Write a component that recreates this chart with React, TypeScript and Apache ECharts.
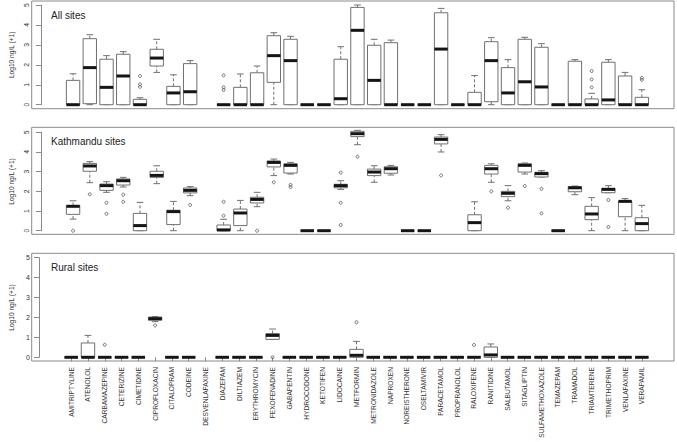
import React, { useEffect, useRef } from 'react';
import * as echarts from 'echarts';

const categories = [
  'AMITRIPTYLINE', 'ATENOLOL', 'CARBAMAZEPINE', 'CETERIZINE', 'CIMETIDINE', 'CIPROFLOXACIN',
  'CITALOPRAM', 'CODEINE', 'DESVENLAFAXINE', 'DIAZEPAM', 'DILTIAZEM', 'ERYTHROMYCIN',
  'FEXOFENADINE', 'GABAPENTIN', 'HYDROCODONE', 'KETOTIFEN', 'LIDOCAINE', 'METFORMIN',
  'METRONIDAZOLE', 'NAPROXEN', 'NOREISTHERONE', 'OSELTAMIVIR', 'PARACETAMOL', 'PROPRANOLOL',
  'RALOXIFENE', 'RANITIDINE', 'SALBUTAMOL', 'SITAGLIPTIN', 'SULFAMETHOXAZOLE', 'TEMAZEPAM',
  'TRAMADOL', 'TRIAMTERENE', 'TRIMETHOPRIM', 'VENLAFAXINE', 'VERAPAMIL',
];

const panelTitles = ['All sites', 'Kathmandu sites', 'Rural sites'];
const yTicks = [0, 1, 2, 3, 4, 5];

// [min, Q1, median, Q3, max] per category (null = no data)
const Z = [0, 0, 0, 0, 0];
const allSitesStats: (number[] | null)[] = [
  [0, 0, 0, 1.22, 1.55], [0, 0.05, 1.86, 3.31, 3.51], [0, 0, 0.87, 2.28, 2.46], [0, 0, 1.44, 2.53, 2.66],
  [0, 0, 0, 0.27, 0.35], [1.62, 1.94, 2.34, 2.78, 3.28], [0, 0, 0.59, 0.92, 1.5], [0, 0, 0.65, 2.06, 2.21],
  null, Z, [0, 0, 0, 0.87, 1.54], [0, 0, 0, 1.6, 1.94],
  [0, 1.12, 2.46, 3.46, 3.61], [0, 0, 2.21, 3.28, 3.43], Z, Z, [0, 0, 0.3, 2.28, 2.91], [0, 0, 3.73, 4.88, 5.0],
  [0, 0, 1.22, 2.98, 3.28], [0, 0, 0, 3.11, 3.24], Z, Z, [0, 0, 2.79, 4.61, 4.83], Z,
  [0, 0, 0, 0.62, 1.46], [0, 0.15, 2.21, 3.16, 3.36], [0, 0, 0.59, 1.86, 2.26], [0, 0, 1.15, 3.28, 3.38],
  [0, 0, 0.89, 2.88, 3.06], Z, [0, 0, 0, 2.18, 2.26], [0, 0, 0, 0.29, 0.57], [0, 0, 0.24, 2.13, 2.26],
  [0, 0, 0, 1.44, 1.62], [0, 0, 0, 0.37, 0.75],
];
const kathmanduStats: (number[] | null)[] = [
  [0.59, 0.83, 1.24, 1.28, 1.52], [2.44, 3.02, 3.29, 3.42, 3.51], [1.95, 2.05, 2.29, 2.37, 2.49], [2.22, 2.32, 2.54, 2.63, 2.71],
  [0, 0, 0.26, 0.88, 1.44], [2.39, 2.71, 2.81, 3.02, 3.3], [0, 0.31, 0.97, 1.04, 1.49], [1.78, 1.92, 2.05, 2.17, 2.24],
  null, [0, 0, 0.04, 0.29, 0.58], [0, 0.26, 0.9, 1.1, 1.54], [1.22, 1.41, 1.59, 1.7, 1.95],
  [2.8, 3.24, 3.47, 3.54, 3.64], [2.88, 2.93, 3.32, 3.4, 3.47], Z, Z, [2.1, 2.18, 2.29, 2.36, 2.54], [4.37, 4.78, 4.93, 5.05, 5.1],
  [2.46, 2.8, 2.98, 3.13, 3.3], [2.83, 2.92, 3.15, 3.25, 3.32], Z, Z, [4.0, 4.41, 4.64, 4.76, 4.88], null,
  [0, 0, 0.41, 0.81, 1.47], [2.46, 2.88, 3.15, 3.32, 3.4], [1.52, 1.73, 1.9, 2.0, 2.29], [2.88, 2.98, 3.32, 3.4, 3.44],
  [2.73, 2.73, 2.9, 2.97, 3.05], Z, [1.83, 1.98, 2.18, 2.24, 2.27], [0, 0.56, 0.85, 1.24, 1.68], [1.93, 1.93, 2.1, 2.15, 2.29],
  [0, 0.71, 1.49, 1.49, 1.63], [0, 0, 0.36, 0.66, 1.29],
];
const ruralStats: (number[] | null)[] = [
  Z, [0, 0, 0, 0.72, 1.1], Z, Z, Z, [1.79, 1.86, 1.94, 2.02, 2.05], Z, Z,
  null, Z, Z, Z,
  [0.9, 0.9, 1.1, 1.19, 1.42], Z, Z, Z, Z, [0, 0, 0.1, 0.4, 0.8],
  Z, Z, Z, Z, Z, Z,
  Z, [0, 0, 0.12, 0.52, 0.67], Z, Z,
  Z, Z, Z, Z, Z,
  Z, Z,
];

// outliers: [category index, value]
const allSitesOutliers = [
  [4, 1.44], [4, 1.02], [4, 0.9], [9, 1.47], [9, 0.87], [9, 0.74],
  [31, 1.69], [31, 1.27], [31, 0.87], [34, 1.35], [34, 1.25],
];
const kathmanduOutliers = [
  [0, 0], [1, 1.85], [2, 1.42], [2, 0.86], [3, 1.83], [3, 1.47], [7, 1.31], [9, 0.76], [9, 1.47],
  [11, 0], [12, 2.46], [13, 2.33], [13, 2.22], [16, 2.95], [16, 1.42], [16, 0.29], [17, 3.76],
  [22, 2.81], [25, 2.0], [26, 1.17], [27, 2.27], [28, 2.13], [28, 0.88], [32, 1.56], [32, 0.19],
];
const ruralOutliers = [
  [2, 0.63], [5, 1.6], [12, 0], [17, 1.76], [24, 0.62],
];

const panelStats = [allSitesStats, kathmanduStats, ruralStats];
const panelOutliers = [allSitesOutliers, kathmanduOutliers, ruralOutliers];

const FONT = '"Liberation Sans", Arial, Helvetica, sans-serif';
const BOX = '#707070';
const FRAME = '#8a8a8a';
const TEXT = '#333333';

const gridLeft = 55.5;
const gridRight = 26.8;
const grids = [
  { top: 5, height: 99.7 },
  { top: 132.3, height: 98.4 },
  { top: 257.7, height: 99.6 },
];
const frames = [
  { y: 1, h: 107.7 },
  { y: 127.3, h: 107 },
  { y: 253.3, h: 107.7 },
];
const frameLeft = 31.7;
const frameRight = 674;
const titleY = [15, 141.7, 267.7];

function renderBox(params: any, api: any) {
  const x = api.value(0);
  const v = [1, 2, 3, 4, 5].map((k) => api.value(k));
  if (v.some((n) => isNaN(n))) return;
  const band = api.size([1, 0])[0];
  const bw = band * 0.8;
  const cap = bw / 2;
  const p = v.map((n) => api.coord([x, n]));
  const cx = p[0][0];
  const [yMin, yQ1, yMed, yQ3, yMax] = p.map((q: number[]) => q[1]);
  const dash = { stroke: BOX, lineWidth: 1, lineDash: [3, 2], fill: null };
  const solid = { stroke: BOX, lineWidth: 1, fill: null };
  return {
    type: 'group',
    children: [
      { type: 'line', shape: { x1: cx, y1: yQ3, x2: cx, y2: yMax }, style: dash },
      { type: 'line', shape: { x1: cx, y1: yMin, x2: cx, y2: yQ1 }, style: dash },
      { type: 'line', shape: { x1: cx - cap / 2, y1: yMax, x2: cx + cap / 2, y2: yMax }, style: solid },
      { type: 'line', shape: { x1: cx - cap / 2, y1: yMin, x2: cx + cap / 2, y2: yMin }, style: solid },
      {
        type: 'rect',
        shape: { x: cx - bw / 2, y: yQ3, width: bw, height: Math.max(0, yQ1 - yQ3) },
        style: { stroke: BOX, lineWidth: 1, fill: '#ffffff' },
      },
      {
        type: 'line',
        shape: { x1: cx - bw / 2, y1: yMed, x2: cx + bw / 2, y2: yMed },
        style: { stroke: '#151515', lineWidth: 3, fill: null },
      },
    ],
  };
}

export default function App() {
  const ref = useRef<HTMLDivElement>(null);
  useEffect(() => {
    if (!ref.current) return;
    const chart = echarts.init(ref.current, null, { renderer: 'svg' });

    const gridOpt = grids.map((g) => ({ left: gridLeft, right: gridRight, top: g.top, height: g.height }));
    const xAxes = grids.map((_, i) => ({
      type: 'category',
      gridIndex: i,
      data: categories,
      boundaryGap: true,
      show: i === 2,
      offset: i === 2 ? 3.7 : 0,
      axisLine: { show: false },
      axisTick: { show: true, alignWithLabel: true, length: 4, lineStyle: { color: FRAME } },
      axisLabel: {
        interval: 0,
        rotate: 90,
        fontSize: 6.6,
        margin: 6,
        color: TEXT,
        fontFamily: FONT,
      },
    }));
    const yAxes = grids.map((_, i) => ({
      type: 'value',
      gridIndex: i,
      min: yTicks[0],
      max: yTicks[yTicks.length - 1],
      interval: 1,
      offset: gridLeft - frameLeft,
      splitLine: { show: false },
      axisLine: { show: true, lineStyle: { color: FRAME } },
      axisTick: { show: true, length: 5, lineStyle: { color: FRAME } },
      axisLabel: {
        rotate: i === 2 ? 0 : 90,
        fontSize: i === 2 ? 7 : 6.8,
        margin: i === 2 ? 9 : 11,
        color: TEXT,
        fontFamily: FONT,
      },
      name: 'Log10 ng/L (+1)',
      nameLocation: 'middle',
      nameGap: 24,
      nameTextStyle: { fontSize: 6.6, color: TEXT, fontFamily: FONT },
    }));

    const series: any[] = [];
    panelStats.forEach((stats, i) => {
      const data: any[] = [];
      stats.forEach((s, idx) => {
        if (s) data.push([idx, ...s]);
      });
      series.push({
        type: 'custom',
        xAxisIndex: i,
        yAxisIndex: i,
        clip: false,
        renderItem: renderBox,
        encode: { x: 0, y: [1, 2, 3, 4, 5] },
        data,
        z: 2,
      });
      series.push({
        type: 'scatter',
        xAxisIndex: i,
        yAxisIndex: i,
        symbol: 'circle',
        symbolSize: 3,
        itemStyle: { color: 'rgba(255,255,255,0)', borderColor: '#555555', borderWidth: 1 },
        data: panelOutliers[i],
        z: 3,
      });
    });

    const graphics: any[] = [];
    frames.forEach((f, i) => {
      graphics.push({
        type: 'rect',
        shape: { x: frameLeft, y: f.y, width: frameRight - frameLeft, height: f.h },
        style: { fill: 'none', stroke: FRAME, lineWidth: 1 },
        silent: true,
        z: 0,
      });
      graphics.push({
        type: 'text',
        x: 51,
        y: titleY[i],
        style: {
          text: panelTitles[i],
          fontSize: 10,
          fontFamily: FONT,
          fill: '#222222',
          verticalAlign: 'middle',
          align: 'left',
        },
        z: 5,
      });
    });

    chart.setOption({
      animation: false,
      backgroundColor: '#ffffff',
      grid: gridOpt,
      xAxis: xAxes,
      yAxis: yAxes,
      series,
      graphic: graphics,
    });
    return () => chart.dispose();
  }, []);
  return (
    <div
      ref={ref}
      style={{ position: 'fixed', left: 0, top: 0, width: 677, height: 442 }}
    />
  );
}
